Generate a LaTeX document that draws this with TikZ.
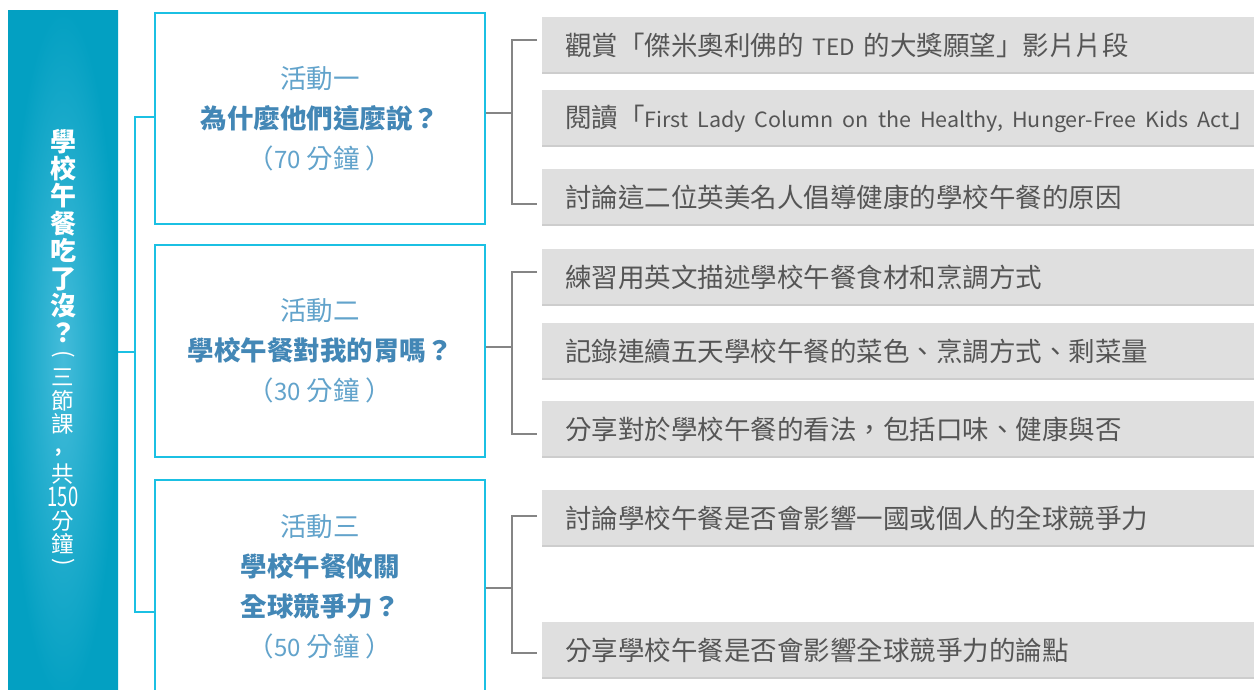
\documentclass[tikz,border=0pt]{standalone}
\usepackage{graphicx}
\usepackage{fontspec}
\setmainfont{Noto Sans CJK TC}
\usetikzlibrary{calc}
\definecolor{bardark}{HTML}{03A0C2}
\definecolor{barlight}{HTML}{45BCDA}
\definecolor{cyanline}{HTML}{1BC0E3}
\definecolor{actlight}{HTML}{62A3CB}
\definecolor{actbold}{HTML}{4387B6}
\definecolor{brgray}{HTML}{858585}
\definecolor{boxgray}{HTML}{DFDFDF}
\definecolor{boxshadow}{HTML}{CDCDCD}
\definecolor{txtgray}{HTML}{555555}
\newcommand\lt[1]{{\fontsize{21}{30}\selectfont #1}}
\newcommand\dg[1]{{\fontsize{24}{40}\selectfont #1}}
\tikzset{
 actbox/.style={draw=cyanline, line width=2.5pt, minimum width=330pt, inner sep=0pt, align=center, text=actlight, font=\fontsize{26.5}{40}\selectfont},
 graybox/.style={fill=boxgray, anchor=west, minimum height=57pt, text width=666pt, inner xsep=23pt, inner ysep=0pt, align=left, text=txtgray, font=\fontsize{26.5}{30}\selectfont, path picture={\draw[boxshadow, line width=2pt] ([yshift=1pt]path picture bounding box.south west) -- ([yshift=1pt]path picture bounding box.south east);}},
 cyanconn/.style={draw=cyanline, line width=2.5pt},
 bracketline/.style={draw=brgray, line width=2pt},
 subch/.style={text=white, inner sep=0pt, font=\fontsize{22.5}{24}\selectfont},
}
\begin{document}
\begin{tikzpicture}[x=1pt,y=-1pt]
\useasboundingbox (0,0) rectangle (1254,689);
\clip (0,0) rectangle (1254,689);
\fill[white] (0,0) rectangle (1254,689);
% left bar
\node[shade, inner color=barlight, outer color=bardark, minimum width=110pt, minimum height=690pt, inner sep=0pt] (bar) at (63,355) {};
\node[text=white, align=center, font=\bfseries\fontsize{26}{27.4}\selectfont, inner sep=0pt] (title) at (63,236) {學\\校\\午\\餐\\吃\\了\\沒\\？};
\node[subch] (s1) at (63,356) {\rotatebox[origin=c]{-90}{(}};
\node[subch] (s2) at (63,377) {三};
\node[subch] (s3) at (63,401) {節};
\node[subch] (s4) at (63,424) {課};
\node[subch, font=\bfseries\fontsize{18}{20}\selectfont] (s5) at (59,452) {\raisebox{0pt}[0pt][0pt]{,}};
\node[subch] (s6) at (63,474) {共};
\node[subch] (s7) at (63,497) {\scalebox{0.68}[1]{\fontsize{27}{27}\selectfont 150}};
\node[subch] (s8) at (63,521) {分};
\node[subch] (s9) at (63,544) {鐘};
\node[subch] (s10) at (63,564) {\rotatebox[origin=c]{-90}{)}};
% activity boxes
\node[actbox, minimum height=211pt] (a1) at (320,118.5) {活動一\\{\bfseries\color{actbold}為什麼他們這麼說？}\\（\dg{70} 分鐘 ）};
\node[actbox, minimum height=212pt] (a2) at (320,351) {活動二\\{\bfseries\color{actbold}學校午餐對我的胃嗎？}\\（\dg{30} 分鐘 ）};
\node[actbox, minimum height=214pt] (a3) at (320,587) {活動三\\{\bfseries\color{actbold}學校午餐攸關}\\{\bfseries\color{actbold}全球競爭力？}\\（\dg{50} 分鐘 ）};
% grey boxes
\node[graybox] (g11) at (542,45.5) {\mbox{觀賞「傑米奧利佛的 {\fontsize{22.5}{30}\selectfont TED} 的大獎願望」影片片段}};
\node[graybox] (g12) at (542,118.5) {\mbox{閱讀「\resizebox{585pt}{\height}{\lt{First Lady Column on the Healthy, Hunger-Free Kids Act}}」}};
\node[graybox] (g13) at (542,197.5) {\mbox{討論這二位英美名人倡導健康的學校午餐的原因}};
\node[graybox] (g21) at (542,277.5) {\mbox{練習用英文描述學校午餐食材和烹調方式}};
\node[graybox] (g22) at (542,351.5) {\mbox{記錄連續五天學校午餐的菜色、烹調方式、剩菜量}};
\node[graybox] (g23) at (542,429.5) {\mbox{分享對於學校午餐的看法，包括口味、健康與否}};
\node[graybox] (g31) at (542,518.5) {\mbox{討論學校午餐是否會影響一國或個人的全球競爭力}};
\node[graybox] (g32) at (542,650.5) {\mbox{分享學校午餐是否會影響全球競爭力的論點}};
% cyan connectors
\coordinate (j) at (136,352);
\draw[cyanconn] (bar.east |- j) -- (j);
\draw[cyanconn] ($(a1.west)+(0,-1.5)$) -- ($(a1.west)+(-19,-1.5)$) |- ($(a3.west)+(0,25)$);
% grey brackets
\coordinate (b1) at (512,113);
\draw[bracketline] (a1.east |- b1) -- (b1);
\draw[bracketline] ($(g11.west)+(-5,-6)$) -| (b1) |- ($(g13.west)+(-5,6)$);
\coordinate (b2) at (512,347);
\draw[bracketline] (a2.east |- b2) -- (b2);
\draw[bracketline] ($(g21.west)+(-5,-5.5)$) -| (b2) |- ($(g23.west)+(-5,4.5)$);
\coordinate (b3) at (512,588);
\draw[bracketline] (a3.east |- b3) -- (b3);
\draw[bracketline] ($(g31.west)+(-5,-2.5)$) -| (b3) |- ($(g32.west)+(-5,2.5)$);
\end{tikzpicture}
\end{document}
